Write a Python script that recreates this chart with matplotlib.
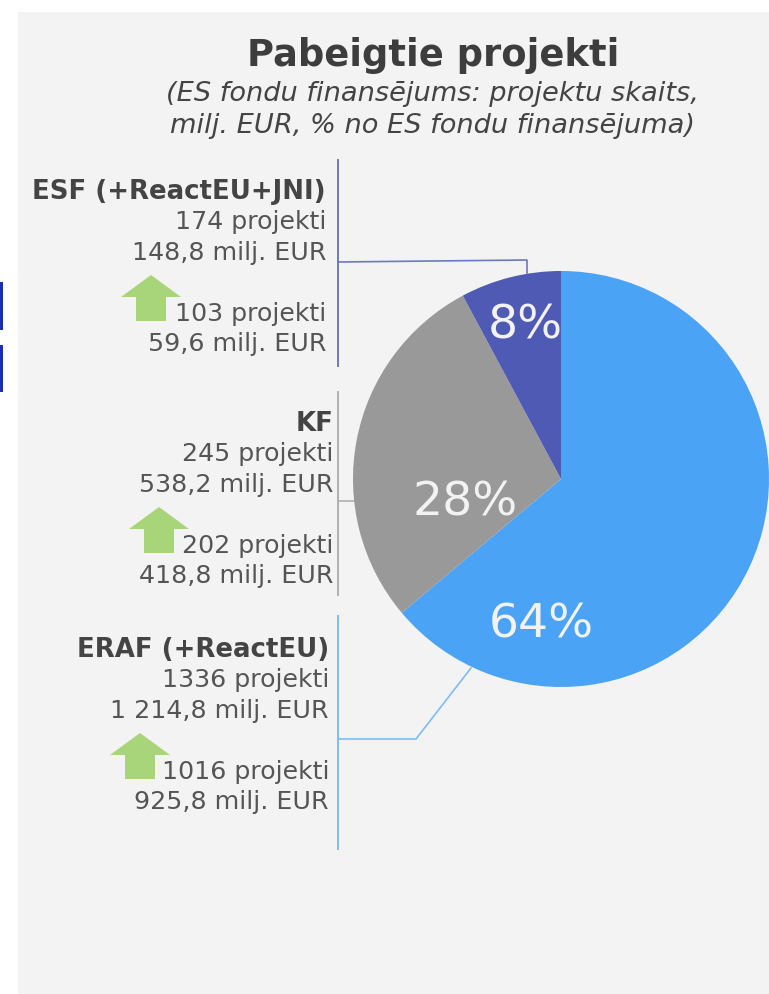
import matplotlib
matplotlib.use("Agg")
import matplotlib.pyplot as plt
from matplotlib.patches import Polygon, Rectangle

W, H = 769, 994

funds = ["ERAF (+ReactEU)", "KF", "ESF (+ReactEU+JNI)"]
amounts = [1214.8, 538.2, 148.8]
percent_labels = ["64%", "28%", "8%"]
colors = ["#4ba3f5", "#999999", "#4f5ab5"]
line_colors = ["#7dbcf7", "#b0b0b0", "#6f78c4"]

projects = ["1336 projekti", "245 projekti", "174 projekti"]
money = ["1 214,8 milj. EUR", "538,2 milj. EUR", "148,8 milj. EUR"]
projects2 = ["1016 projekti", "202 projekti", "103 projekti"]
money2 = ["925,8 milj. EUR", "418,8 milj. EUR", "59,6 milj. EUR"]

# layout in pixels, same order as funds
text_right = [329, 333, 326]
title_y = [650, 424, 192]
arrow_x = [140, 159, 151]
arrow_top = [733, 507, 275]
bar_x = [338, 338, 338]
bar_top = [616, 392, 160]
bar_bottom = [849, 595, 366]
connectors = [
    [(338, 739), (416, 739), (471, 668)],
    [(338, 501), (354, 501)],
    [(338, 262), (527, 260), (527, 273)],
]
pct_pos = [(541, 625), (465, 503), (525, 326)]

plt.rcParams["font.family"] = ["DejaVu Sans"]

fig = plt.figure(figsize=(W / 100, H / 100), dpi=100, facecolor="white")
ax = fig.add_axes([0, 0, 1, 1])
ax.set_xlim(0, W)
ax.set_ylim(H, 0)
ax.axis("off")

ax.add_patch(Rectangle((18, 12), W - 18, H - 12, color="#f3f3f3", lw=0, zorder=0))
ax.add_patch(Rectangle((0, 282), 2.5, 48, color="#1a2fa8", lw=0))
ax.add_patch(Rectangle((0, 345), 2.5, 47, color="#1a2fa8", lw=0))

ax.text(433.5, 55, "Pabeigtie projekti", fontsize=26.6, fontweight="bold",
        color="#3d3d3d", ha="center", va="center")
ax.text(432.5, 94, "(ES fondu finansējums: projektu skaits,", fontsize=19.6,
        style="italic", color="#444444", ha="center", va="center")
ax.text(433, 126, "milj. EUR, % no ES fondu finansējuma)", fontsize=19.6,
        style="italic", color="#444444", ha="center", va="center")

# separate axes for the pie, 416 px wide
pie_ax = fig.add_axes([353 / W, 1 - 687 / H, 416 / W, 416 / H])
pie_ax.pie(amounts, colors=colors, startangle=90, counterclock=False, radius=1,
           wedgeprops={"linewidth": 0})
pie_ax.set_xlim(-1, 1)
pie_ax.set_ylim(-1, 1)

ax2 = fig.add_axes([0, 0, 1, 1])
ax2.set_xlim(0, W)
ax2.set_ylim(H, 0)
ax2.axis("off")
ax2.patch.set_alpha(0)

for i in range(3):
    ax.plot([bar_x[i], bar_x[i]], [bar_top[i], bar_bottom[i]], color=line_colors[i], lw=1.4)
    xs = [p[0] for p in connectors[i]]
    ys = [p[1] for p in connectors[i]]
    ax.plot(xs, ys, color=line_colors[i], lw=1.2)

    cx = arrow_x[i]
    top = arrow_top[i]
    arrow = [(cx, top), (cx + 30, top + 22), (cx + 15, top + 22), (cx + 15, top + 46),
             (cx - 15, top + 46), (cx - 15, top + 22), (cx - 30, top + 22)]
    ax.add_patch(Polygon(arrow, closed=True, color="#a9d57a", lw=0))

    r = text_right[i]
    t = title_y[i]
    ax.text(r, t, funds[i], fontsize=18.75, fontweight="bold", color="#444444", ha="right", va="center")
    ax.text(r, t + 30, projects[i], fontsize=18.2, color="#555555", ha="right", va="center")
    ax.text(r, t + 61, money[i], fontsize=18.2, color="#555555", ha="right", va="center")
    ax.text(r, t + 122, projects2[i], fontsize=18.2, color="#555555", ha="right", va="center")
    ax.text(r, t + 152, money2[i], fontsize=18.2, color="#555555", ha="right", va="center")

    ax2.text(pct_pos[i][0], pct_pos[i][1], percent_labels[i], fontsize=34, color="#f2f2f2",
             ha="center", va="center")

fig.savefig("out.png", dpi=100)
